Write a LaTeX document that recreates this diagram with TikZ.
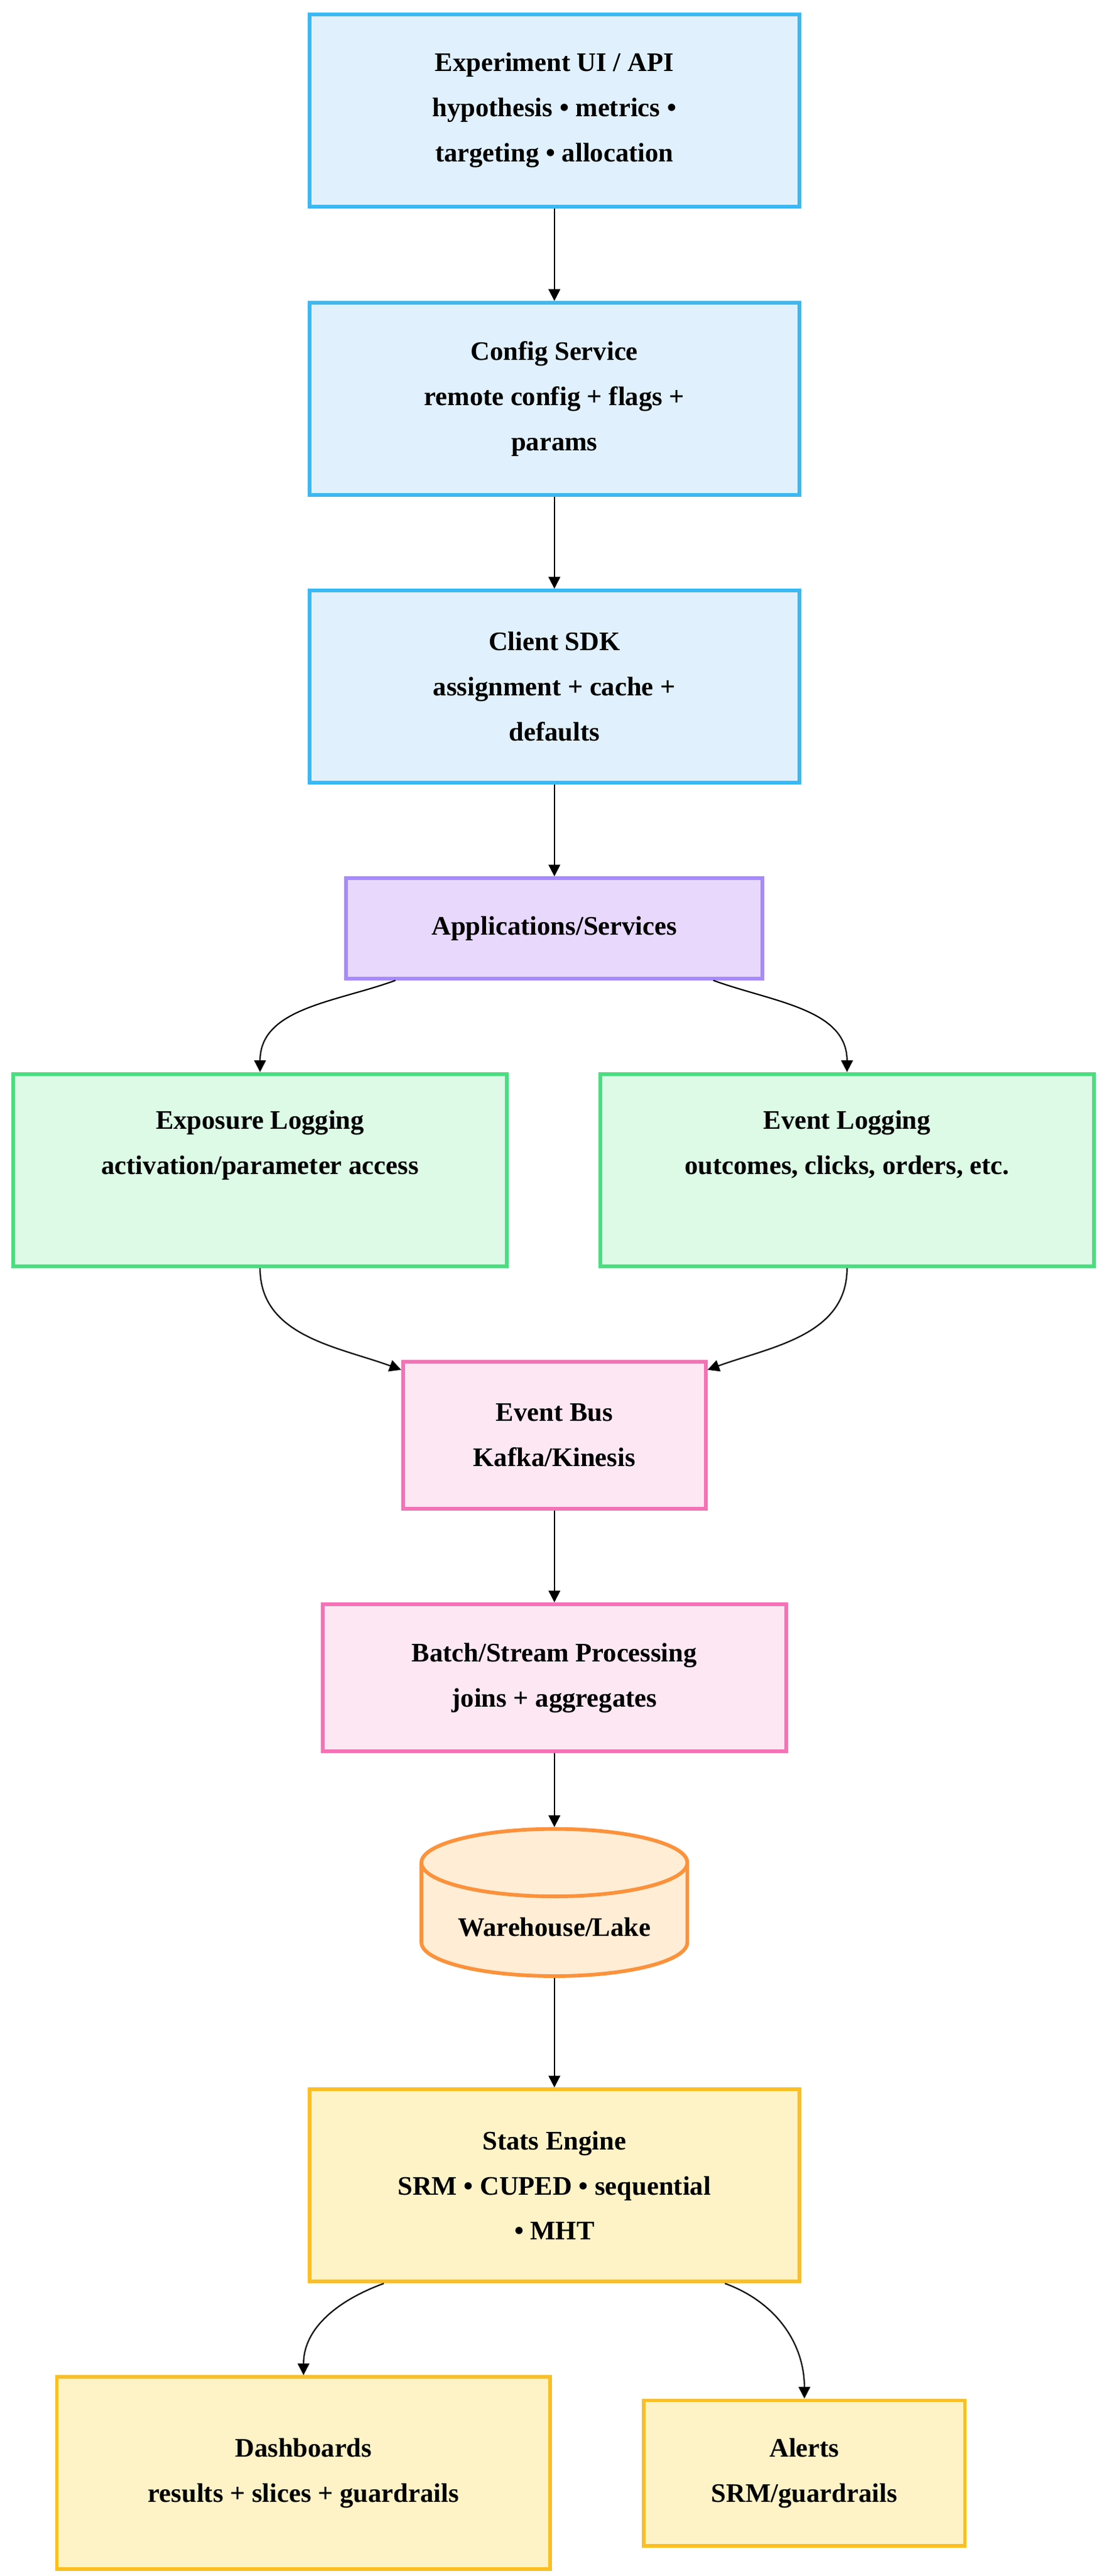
\documentclass[tikz,border=0pt]{standalone}
\usepackage{fontspec}
\setmainfont{Liberation Serif}
\usetikzlibrary{shapes.geometric,arrows.meta}
\definecolor{bluef}{HTML}{E0F0FC}\definecolor{blued}{HTML}{3DB8F0}
\definecolor{purf}{HTML}{E8D8FC}\definecolor{purd}{HTML}{A78BFA}
\definecolor{grnf}{HTML}{DCFAE6}\definecolor{grnd}{HTML}{4ADE80}
\definecolor{pnkf}{HTML}{FCE7F3}\definecolor{pnkd}{HTML}{F472B6}
\definecolor{orgf}{HTML}{FFEDD5}\definecolor{orgd}{HTML}{FB923C}
\definecolor{ylwf}{HTML}{FEF3C7}\definecolor{ylwd}{HTML}{FBBF24}
\begin{document}
\begin{tikzpicture}[x=1pt,y=-1pt]
	\tikzset{box/.style={draw, line width=2.2pt, align=center, font=\fontsize{16}{27}\selectfont\bfseries, inner sep=0pt}}
	\tikzset{blue/.style={box, fill=bluef, draw=blued, minimum width=293, minimum height=115}}
	\tikzset{link/.style={-{Triangle[length=7pt,width=7pt]}, line width=0.8pt}}
	\useasboundingbox (0,0) rectangle (660,1540);

	\node[blue] (ui) at (331.5,66) {Experiment UI / API\\hypothesis • metrics •\\targeting • allocation};
	\node[blue] (cfg) at (331.5,238.5) {Config Service\\remote config + flags +\\params};
	\node[blue] (sdk) at (331.5,410.5) {Client SDK\\assignment + cache +\\defaults};
	\node[box, fill=purf, draw=purd, minimum width=249, minimum height=60] (apps) at (331.5,555) {Applications/Services};
	\node[box, fill=grnf, draw=grnd, minimum width=295, minimum height=115] (expo) at (155.5,699.5) {Exposure Logging\\activation/parameter access\\[6pt]};
	\node[box, fill=grnf, draw=grnd, minimum width=295, minimum height=115] (evt) at (506.5,699.5) {Event Logging\\outcomes, clicks, orders, etc.\\[6pt]};
	\node[box, fill=pnkf, draw=pnkd, minimum width=181, minimum height=88] (bus) at (331.5,858) {Event Bus\\Kafka/Kinesis};
	\node[box, fill=pnkf, draw=pnkd, minimum width=277, minimum height=88] (proc) at (331.5,1003) {Batch/Stream Processing\\joins + aggregates};
	\node[box, cylinder, shape border rotate=90, aspect=0.35, fill=orgf, draw=orgd, minimum width=159, minimum height=88] (lake) at (331.5,1148) {\\[-8pt]Warehouse/Lake};
	\node[box, fill=ylwf, draw=ylwd, minimum width=293, minimum height=115] (stats) at (331.5,1306.5) {Stats Engine\\SRM • CUPED • sequential\\• MHT};
	\node[box, fill=ylwf, draw=ylwd, minimum width=295, minimum height=115] (dash) at (181.5,1478.5) {Dashboards\\results + slices + guardrails};
	\node[box, fill=ylwf, draw=ylwd, minimum width=192, minimum height=87] (alert) at (481,1478.5) {Alerts\\SRM/guardrails};

	\draw[link] (ui) -- (cfg);
	\draw[link] (cfg) -- (sdk);
	\draw[link] (sdk) -- (apps);
	\draw[link] ([xshift=-95pt]apps.south) to[out=200, in=90] (expo.north);
	\draw[link] ([xshift=95pt]apps.south) to[out=-20, in=90] (evt.north);
	\draw[link] (expo.south) to[out=270, in=160] ([yshift=-6pt]bus.north west);
	\draw[link] (evt.south) to[out=270, in=20] ([yshift=-6pt]bus.north east);
	\draw[link] (bus) -- (proc);
	\draw[link] (proc) -- (lake);
	\draw[link] (lake) -- (stats);
	\draw[link] ([xshift=-102pt]stats.south) to[out=200, in=90] (dash.north);
	\draw[link] ([xshift=102pt]stats.south) to[out=-20, in=90] (alert.north);
\end{tikzpicture}
\end{document}
